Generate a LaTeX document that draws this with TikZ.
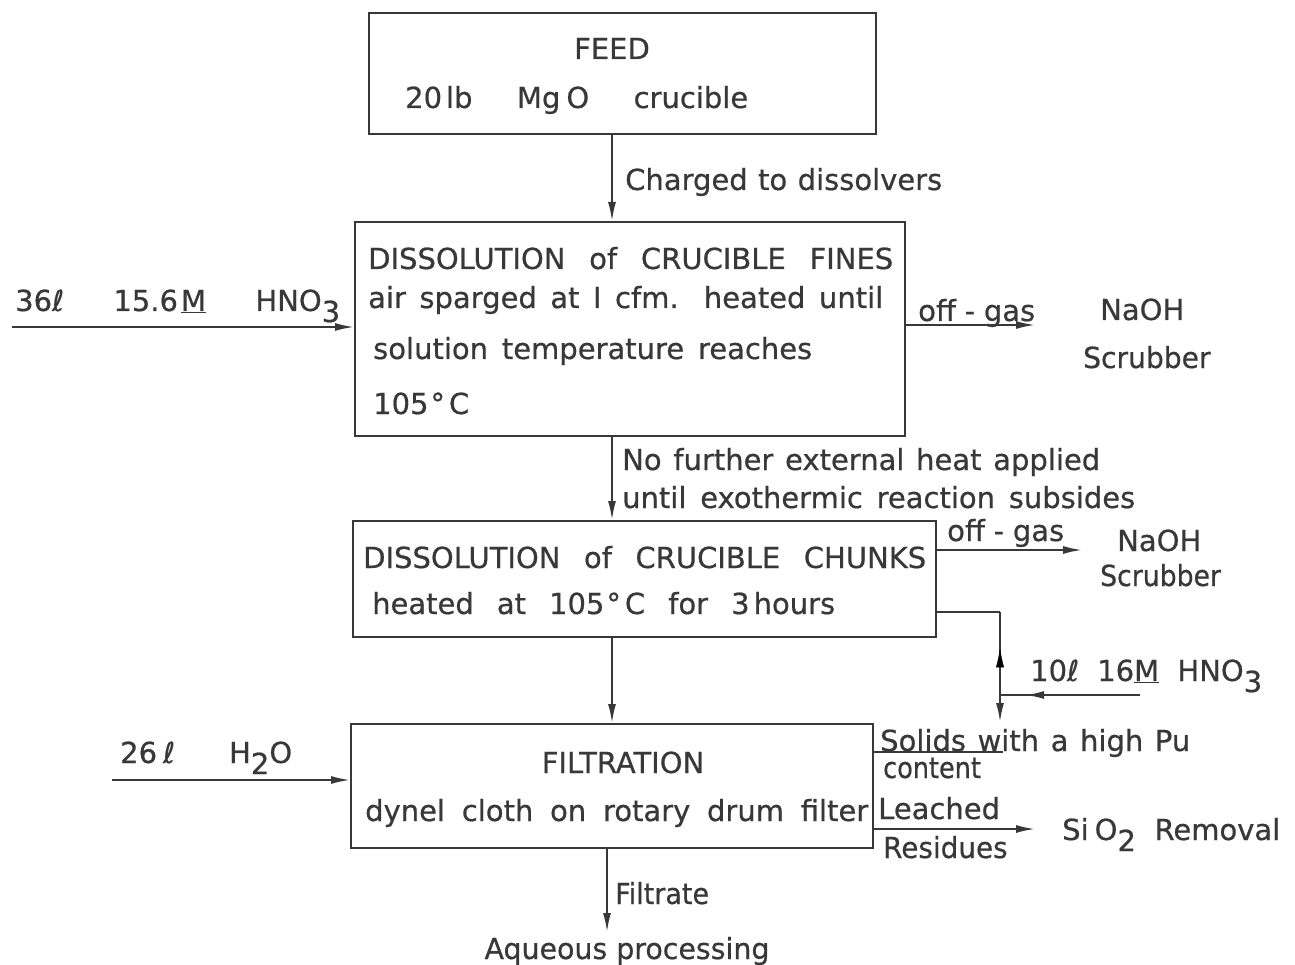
\documentclass[tikz,border=0pt]{standalone}
\usepackage{fontspec}
\setmainfont{DejaVu Sans}[FakeBold=0.6]
\usetikzlibrary{arrows.meta,decorations.markings}
\definecolor{ink}{HTML}{383838}
\newcommand\lettering{\fontsize{29}{35}\selectfont}
\newcommand\lowsub[1]{\raisebox{-0.38em}{#1}}
\newcommand\spread[2]{\makebox[#1][s]{#2}}
\newcommand\flexgap{\hskip 2pt plus 1fil\relax}
\begin{document}
\begin{tikzpicture}[x=1pt,y=-1pt,
  box/.style={draw=ink, line width=1.9pt, inner sep=0pt, anchor=north west},
  txt/.style={inner sep=0pt, anchor=base west, font=\lettering, text=ink},
  flow/.style={draw=ink, line width=1.9pt, -{Latex[length=19pt,width=8pt]}},
  wire/.style={draw=ink, line width=1.9pt},
  tipat/.style={postaction={decorate}, decoration={markings,
      mark=at position #1 with {\arrow{Latex[length=19pt,width=8pt]}}}},
]
\useasboundingbox[fill=white] (0,0) rectangle (1295,965);

% process boxes
\node[box, minimum width=507pt, minimum height=121pt] (feed)   at (368,12)  {};
\node[box, minimum width=550pt, minimum height=214pt] (fines)  at (354,221) {};
\node[box, minimum width=583pt, minimum height=116pt] (chunks) at (352,520) {};
\node[box, minimum width=522pt, minimum height=124pt] (filt)   at (350,723) {};

% free ends and bends
\coordinate (mainx) at (612,0);
\coordinate (acid1) at (12,327);
\coordinate (gas1)  at (1035,325);
\coordinate (gas2)  at (1082,550);
\coordinate (j1)    at (1000,612);
\coordinate (j2)    at (1000,722);
\coordinate (hin)   at (1140,695);
\coordinate (j3)    at (1000,695);
\coordinate (water) at (112,780);
\coordinate (sol)   at (1003,752);
\coordinate (sio)   at (1035,829);
\coordinate (aq)    at (607,932);

% main flow
\draw[flow] (feed.south -| mainx) -- (fines.north -| mainx);
\draw[flow] (fines.south -| mainx) -- (chunks.north -| mainx);
\draw[flow] (chunks.south -| mainx) -- (filt.north -| mainx);
\draw[flow] (filt.south -| aq) -- (aq);

% feeds and off-streams
\draw[flow] (acid1) -- (acid1 -| fines.west);
\draw[flow] (fines.east |- gas1) -- (gas1);
\draw[flow] (chunks.east |- gas2) -- (gas2);
\draw[flow] (water) -- (water -| filt.west);
\draw[flow] (filt.east |- sio) -- (sio);

% recycle loop with fresh acid
\draw[wire] (chunks.east |- j1) -- (j1);
\draw[flow] (j1) -- (j2);
\path[tipat=0.67] (j2) -- (j1);
\draw[wire, tipat=0.82] (hin) -- (j3);
\draw[wire] (filt.east |- sol) -- (sol);

% texts
\node[txt, anchor=base] (tfeed) at (612,59) {FEED};
\node[txt] (tfeed2) at (405,108) {\spread{343pt}{20\hspace{4pt}lb Mg\hspace{6pt}O crucible}};
\node[txt] (tcharge) at (625,190) {\spread{317pt}{Charged to dissolvers}};

\node[txt] (f1) at (368,269) {\spread{525pt}{DISSOLUTION of CRUCIBLE FINES}};
\node[txt] (f2) at (368,308) {\spread{515pt}{air sparged at I cfm. heated until}};
\node[txt] (f3) at (373,359) {\spread{439pt}{solution temperature reaches}};
\node[txt] (f4) at (373,414) {105\hspace{2pt}°\hspace{4pt}C};

\node[txt] (a1) at (15,311) {\spread{325pt}{36ℓ 15.6\hspace{3pt}\underline{M} HNO\lowsub{3}}};
\node[txt] (og1) at (918,321) {\spread{117pt}{off\flexgap-\flexgap gas}};
\node[txt] (n1) at (1100,320) {NaOH};
\node[txt] (s1) at (1083,368) {\scalebox{0.97}[1]{Scrubber}};

\node[txt] (h1) at (622,470) {\spread{478pt}{No further external heat applied}};
\node[txt] (h2) at (622,508) {\spread{513pt}{until exothermic reaction subsides}};

\node[txt] (c1) at (363,568) {\spread{563pt}{DISSOLUTION of CRUCIBLE CHUNKS}};
\node[txt] (c2) at (372,614) {\spread{463pt}{heated at 105\hspace{2pt}°\hspace{4pt}C for 3\hspace{4pt}hours}};
\node[txt] (og2) at (947,541) {\spread{117pt}{off\flexgap-\flexgap gas}};
\node[txt] (n2) at (1117,551) {NaOH};
\node[txt] (s2) at (1100,586) {\scalebox{0.92}[1]{Scrubber}};

\node[txt] (a2) at (1030,681) {\spread{232pt}{10ℓ 16\underline{M} HNO\lowsub{3}}};

\node[txt, anchor=base] (t5) at (623,773) {FILTRATION};
\node[txt] (t6) at (365,821) {\spread{503pt}{dynel cloth on rotary drum filter}};
\node[txt] (w1) at (120,763) {\spread{172pt}{26\hspace{6pt}ℓ H\lowsub{2}O}};

\node[txt] (r1) at (880,751) {\spread{310pt}{Solids with a high Pu}};
\node[txt] (r2) at (883,778) {\scalebox{0.88}[1]{content}};
\node[txt] (r3) at (878,819) {Leached};
\node[txt] (r4) at (883,858) {\scalebox{0.96}[1]{Residues}};
\node[txt] (r5) at (1062,840) {\spread{218pt}{Si\hspace{6pt}O\lowsub{2} Removal}};

\node[txt] (fl) at (615,904) {\scalebox{0.93}[1]{Filtrate}};
\node[txt, anchor=base] (aqp) at (627,959) {\scalebox{0.98}[1]{Aqueous processing}};
\end{tikzpicture}
\end{document}
